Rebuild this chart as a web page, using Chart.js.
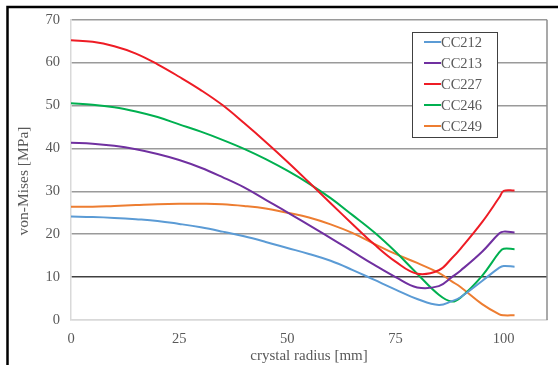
<!DOCTYPE html>
<html>
<head>
<meta charset="utf-8">
<script src="https://cdn.jsdelivr.net/npm/chart.js@4/dist/chart.umd.min.js"></script>
<style>
  html, body { margin: 0; padding: 0; background: #fff; }
  canvas { display: block; }
</style>
</head>
<body>
<canvas id="stressChart" width="558" height="365"></canvas>
<script>
const radius = [0, 5, 10, 15, 20, 25, 30, 35, 40, 45, 50, 55, 60, 65, 70, 75, 80, 85, 88, 90, 95, 99, 100, 102.5];

const cc212 = [24.1, 24.0, 23.8, 23.5, 23.1, 22.4, 21.6, 20.6, 19.5, 18.2, 16.8, 15.4, 13.8, 11.7, 9.4, 7.1, 4.9, 3.5, 4.4, 5.3, 9.1, 12.2, 12.6, 12.4];
const cc213 = [41.3, 41.1, 40.6, 39.8, 38.7, 37.3, 35.5, 33.3, 30.9, 28.0, 25.1, 22.1, 19.1, 16.0, 12.9, 10.0, 7.6, 7.9, 10.0, 11.5, 15.9, 20.2, 20.6, 20.4];
const cc227 = [65.2, 64.85, 63.8, 62.1, 59.6, 56.7, 53.6, 50.1, 45.9, 41.5, 36.9, 32.1, 27.2, 22.4, 17.7, 13.6, 10.8, 11.6, 14.4, 16.6, 22.8, 28.6, 30.1, 30.2];
const cc246 = [50.5, 50.2, 49.6, 48.6, 47.3, 45.6, 43.9, 42.0, 39.9, 37.5, 34.8, 31.8, 28.4, 24.5, 20.5, 15.9, 10.8, 5.9, 4.3, 5.2, 10.3, 15.8, 16.6, 16.5];
const cc249 = [26.4, 26.4, 26.6, 26.8, 27.0, 27.1, 27.1, 27.0, 26.6, 26.0, 25.0, 23.9, 22.3, 20.3, 17.8, 15.4, 13.3, 11.0, 9.0, 7.7, 3.7, 1.3, 1.1, 1.1];

const seriesNames = ["CC212", "CC213", "CC227", "CC246", "CC249"];
const seriesColors = ["#5b9bd5", "#7030a0", "#ee1c25", "#00b050", "#ed7d31"];
const xTicks = [0, 25, 50, 75, 100];
const yTitle = "von-Mises [MPa]";

const FONT = "'Liberation Serif', 'Times New Roman', serif";
const TEXT = "#595959";

function toPoints(values) {
    return values.map((v, i) => ({ x: radius[i], y: v }));
}

const allSeries = [cc212, cc213, cc227, cc246, cc249];

// frame, plot border, y title and boxed legend
const decorations = {
    id: 'decorations',
    afterDraw(chart) {
        const ctx = chart.ctx;
        const area = chart.chartArea;
        ctx.save();
        // right plot border
        ctx.strokeStyle = "#8c8c8c";
        ctx.lineWidth = 1.5;
        ctx.beginPath();
        ctx.moveTo(area.right, area.top);
        ctx.lineTo(area.right, area.bottom);
        ctx.stroke();
        // outer frame of the figure
        ctx.strokeStyle = "#000";
        ctx.lineWidth = 2.5;
        ctx.beginPath();
        ctx.moveTo(7.5, 365);
        ctx.lineTo(7.5, 7);
        ctx.lineTo(558, 7);
        ctx.stroke();
        // y axis title
        ctx.save();
        ctx.translate(24, 181);
        ctx.rotate(-Math.PI / 2);
        ctx.font = "15.5px " + FONT;
        ctx.fillStyle = TEXT;
        ctx.textAlign = "center";
        ctx.textBaseline = "middle";
        ctx.fillText(yTitle, 0, 0);
        ctx.restore();
        // legend box
        const bx = 412, by = 32, bw = 85, bh = 105;
        ctx.fillStyle = "#fff";
        ctx.fillRect(bx, by, bw, bh);
        ctx.strokeStyle = "#404040";
        ctx.lineWidth = 1;
        ctx.strokeRect(bx + 0.5, by + 0.5, bw, bh);
        ctx.font = "14.5px " + FONT;
        ctx.textBaseline = "middle";
        chart.data.datasets.forEach((ds, i) => {
            const yy = 42 + i * 21;
            ctx.strokeStyle = ds.borderColor;
            ctx.lineWidth = 2;
            ctx.beginPath();
            ctx.moveTo(424, yy);
            ctx.lineTo(441, yy);
            ctx.stroke();
            ctx.fillStyle = TEXT;
            ctx.fillText(ds.label, 441, yy + 1);
        });
        ctx.restore();
    }
};

new Chart(document.getElementById("stressChart"), {
    type: 'scatter',
    data: {
        datasets: seriesNames.map((name, i) => ({
            label: name,
            data: toPoints(allSeries[i]),
            showLine: true,
            borderColor: seriesColors[i],
            backgroundColor: seriesColors[i],
            borderWidth: 2,
            pointRadius: 0,
            tension: 0.4
        }))
    },
    options: {
        responsive: false,
        animation: false,
        layout: { padding: { left: 0, top: 18, right: 11, bottom: 0 } },
        plugins: {
            legend: { display: false },
            tooltip: { enabled: false }
        },
        scales: {
            x: {
                type: 'linear',
                min: 0,
                max: 110,
                afterFit(scale) { scale.height = 45; },
                afterBuildTicks(scale) { scale.ticks = xTicks.map(v => ({ value: v })); },
                grid: { display: false, drawTicks: false },
                border: { color: "#d9d9d9", width: 1.5 },
                ticks: {
                    color: TEXT,
                    font: { family: FONT, size: 14.5 },
                    padding: 10,
                    maxRotation: 0
                },
                title: {
                    display: true,
                    text: "crystal radius [mm]",
                    color: TEXT,
                    font: { family: FONT, size: 15 },
                    padding: { top: 0, bottom: 0 }
                }
            },
            y: {
                min: 0,
                max: 70,
                afterFit(scale) { scale.width = 71; },
                ticks: {
                    stepSize: 10,
                    color: TEXT,
                    font: { family: FONT, size: 14.5 },
                    padding: 11
                },
                grid: {
                    drawTicks: false,
                    lineWidth: 1.5,
                    color(c) {
                        if (c.tick.value === 10) return "#404040";
                        if (c.tick.value === 0) return "#d9d9d9";
                        return "#9a9a9a";
                    }
                },
                border: { color: "#d9d9d9", width: 1.5 }
            }
        }
    },
    plugins: [decorations]
});
</script>
</body>
</html>
